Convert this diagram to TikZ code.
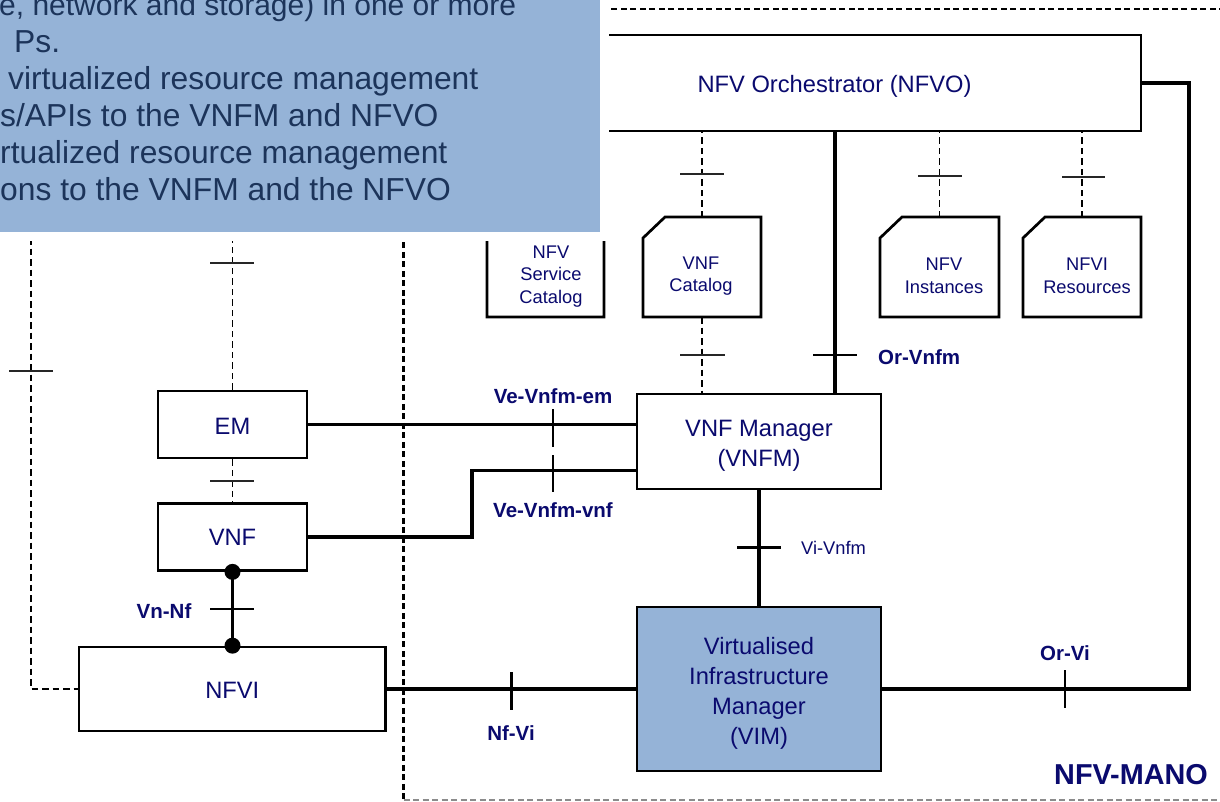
\documentclass[tikz,border=0pt]{standalone}
\usepackage{fontspec}
\setmainfont{Liberation Sans}
\usetikzlibrary{calc}
\definecolor{navy}{RGB}{10,10,110}
\definecolor{ovblue}{RGB}{149,179,215}
\definecolor{ovtext}{RGB}{28,52,90}
\tikzset{
  box/.style={draw=black, line width=2.7pt, fill=white, inner sep=0pt},
  boxtext/.style={inner sep=0pt, text=navy, font=\fontsize{23.7}{29.8}\selectfont, align=center},
  shapebox/.style={draw=none, inner sep=0pt, outer sep=0pt},
  boxline/.style={draw=black, line width=2.7pt, fill=white, line join=miter},
  cattext/.style={inner sep=0pt, text=navy, font=\fontsize{18.3}{22.5}\selectfont, align=center},
  ifline/.style={line width=3.4pt, line join=miter},
  dashline/.style={line width=1.9pt, dash pattern=on 6.5pt off 4pt},
  manodash/.style={line width=2.1pt, dash pattern=on 6pt off 3.5pt},
  solidtick/.style={line width=2.7pt},
  thintick/.style={line width=2pt, black!85},
  blabel/.style={inner sep=0pt, text=navy, font=\bfseries\fontsize{20.5}{24}\selectfont},
  rlabel/.style={inner sep=0pt, text=navy, font=\fontsize{18.3}{22}\selectfont},
  dotnode/.style={circle, fill=black, inner sep=0pt, minimum size=16pt},
  ovtxt/.style={inner sep=0pt, anchor=base west, text=ovtext, font=\fontsize{31.8}{37}\selectfont}
}
\begin{document}
\begin{tikzpicture}[x=1pt, y=-1pt]
\useasboundingbox (0,0) rectangle (1220,801);
\fill[white] (0,0) rectangle (1220,801);

% helper coordinates
\coordinate (ovbot) at (0,238);
\coordinate (orx) at (835,0);
\coordinate (rx) at (1189,0);
\coordinate (jog) at (472,0);
\coordinate (lx) at (31,238);
\coordinate (manoTL) at (403.5,9.3);
\coordinate (manoTR) at (1225,9.3);
\coordinate (manoBL) at (403.5,800);
\coordinate (manoBR) at (1225,800);

% MANO boundary
\draw[manodash] (manoTR) -- (manoTL) -- (manoBL);
\draw[line width=1.5pt, black!45, dash pattern=on 6pt off 3.5pt] (manoBL) -- (manoBR);

% main boxes
\node[box, minimum width=613pt, minimum height=96pt] (nfvo) at (834.5,83) {};
\node[box, minimum width=244pt, minimum height=95pt] (vnfm) at (759,441.5) {};
\node[box, fill=ovblue, minimum width=244pt, minimum height=164pt] (vim) at (759,689) {};
\node[box, minimum width=306.5pt, minimum height=84pt] (nfvi) at (232.25,689) {};
\node[box, minimum width=149pt, minimum height=67pt] (em) at (232.5,424.5) {};
\node[box, minimum width=149pt, minimum height=67pt] (vnf) at (232.5,537) {};
\node[boxtext] (nfvotext) at ($(nfvo.center)+(0,3)$) {NFV Orchestrator (NFVO)};
\node[boxtext] (vnfmtext) at ($(vnfm.center)+(0,4.5)$) {VNF Manager\\(VNFM)};
\node[boxtext] (vimtext) at ($(vim.center)+(0,4.5)$) {Virtualised\\Infrastructure\\Manager\\(VIM)};
\node[boxtext] (nfvitext) at ($(nfvi.center)+(0,1.5)$) {NFVI};
\node[boxtext] (emtext) at ($(em.center)+(0,1.5)$) {EM};
\node[boxtext] (vnftext) at ($(vnf.center)+(0,0.5)$) {VNF};

% catalogue shapes
\node[shapebox, minimum width=117pt, minimum height=100pt] (nscat) at (545.5,267) {};
\node[shapebox, minimum width=118pt, minimum height=100pt] (vnfcat) at (702,267) {};
\node[shapebox, minimum width=119pt, minimum height=100pt] (nfvinst) at (939.5,267) {};
\node[shapebox, minimum width=118pt, minimum height=100pt] (nfvires) at (1082,267) {};
\foreach \c in {nscat,vnfcat,nfvinst,nfvires}{
  \draw[boxline] ($(\c.north west)+(0,21)$) -- ($(\c.north west)+(22,0)$) -- (\c.north east) -- (\c.south east) -- (\c.south west) -- cycle;
}
\node[cattext] (nsctext) at (551,276.5) {NFV\\Service\\Catalog};
\node[cattext] (vnfctext) at (701,276) {VNF\\Catalog};
\node[cattext] (insttext) at (944,276) {NFV\\Instances};
\node[cattext] (restext) at (1087,276) {NFVI\\Resources};

% dashed reference points
\draw[dashline] (vnfcat.north) -- (vnfcat.north |- nfvo.south);
\draw[dashline] (nfvinst.north) -- (nfvinst.north |- nfvo.south);
\draw[dashline] (nfvires.north) -- (nfvires.north |- nfvo.south);
\draw[dashline] (vnfcat.south) -- (vnfcat.south |- vnfm.north);
\draw[dashline] (em.north) -- (em.north |- ovbot);
\draw[dashline] (em.south) -- (em.south |- vnf.north);
\draw[dashline] (lx) -- (lx |- nfvi.west) -- (nfvi.west);

% solid interfaces
\draw[ifline] (nfvo.east) -- (nfvo.east -| rx) -- (rx |- vim.east) -- (vim.east);
\draw[ifline] (orx |- nfvo.south) -- (orx |- vnfm.north);
\draw[ifline] (vnfm.south) -- (vnfm.south |- vim.north);
\draw[ifline] (nfvi.east) -- (nfvi.east -| vim.west);
\draw[ifline] (em.east) -- (em.east -| vnfm.west);
\coordinate (vnfin) at ([yshift=-29pt]vnfm.west);
\draw[ifline] (vnf.east) -- (vnf.east -| jog) -- (jog |- vnfin) -- (vnfin);
\draw[ifline] (vnf.south) -- (vnf.south |- nfvi.north);
\node[dotnode] (dotA) at (vnf.south) {};
\node[dotnode] (dotB) at (vnf.south |- nfvi.north) {};

% ticks
\draw[thintick] (680,174) -- (724,174);
\draw[thintick] (918,176) -- (962,176);
\draw[thintick] (1062,177) -- (1105,177);
\draw[thintick] (680,355) -- (725,355);
\draw[thintick] (210,263) -- (254,263);
\draw[thintick] (210,481) -- (254,481);
\draw[thintick] (9,370.7) -- (53,370.7);
\draw[solidtick] (813,355) -- (857,355);
\draw[solidtick] (737,547.3) -- (781,547.3);
\draw[solidtick] (1065,670) -- (1065,708);
\draw[solidtick] (511.5,672) -- (511.5,710);
\draw[solidtick] (553,409) -- (553,447);
\draw[solidtick] (553,455) -- (553,492);
\draw[solidtick] (210,609) -- (254,609);

% labels
\node[blabel] (lbVeEm) at (553,396) {Ve-Vnfm-em};
\node[blabel] (lbVeVnf) at (553,510) {Ve-Vnfm-vnf};
\node[blabel, anchor=west] (lbOrVnfm) at (878,357.5) {Or-Vnfm};
\node[rlabel, anchor=west] (lbViVnfm) at (801,548) {Vi-Vnfm};
\node[blabel] (lbNfVi) at (511,733) {Nf-Vi};
\node[blabel] (lbOrVi) at (1065,653) {Or-Vi};
\node[blabel] (lbVnNf) at (164,611) {Vn-Nf};
\node[inner sep=0pt, anchor=east, text=navy, font=\bfseries\fontsize{28.8}{34}\selectfont] (mano) at (1208,775) {NFV-MANO};

% overlay text box
\fill[white] (0,0) rectangle (609,241);
\fill[ovblue] (0,0) rectangle (600,232);
\begin{scope}
\clip (0,0) rectangle (600,232);
\node[ovtxt, font=\fontsize{30}{37}\selectfont] (ov1) at (-1,15) {e, network and storage) in one or more};
\node[ovtxt] (ov2) at (14,52) {Ps.};
\node[ovtxt] (ov3) at (8,89) {virtualized resource management};
\node[ovtxt] (ov4) at (0,126) {s/APIs to the VNFM and NFVO};
\node[ovtxt] (ov5) at (0,163) {rtualized resource management};
\node[ovtxt] (ov6) at (0,200) {ons to the VNFM and the NFVO};
\end{scope}
\end{tikzpicture}
\end{document}
